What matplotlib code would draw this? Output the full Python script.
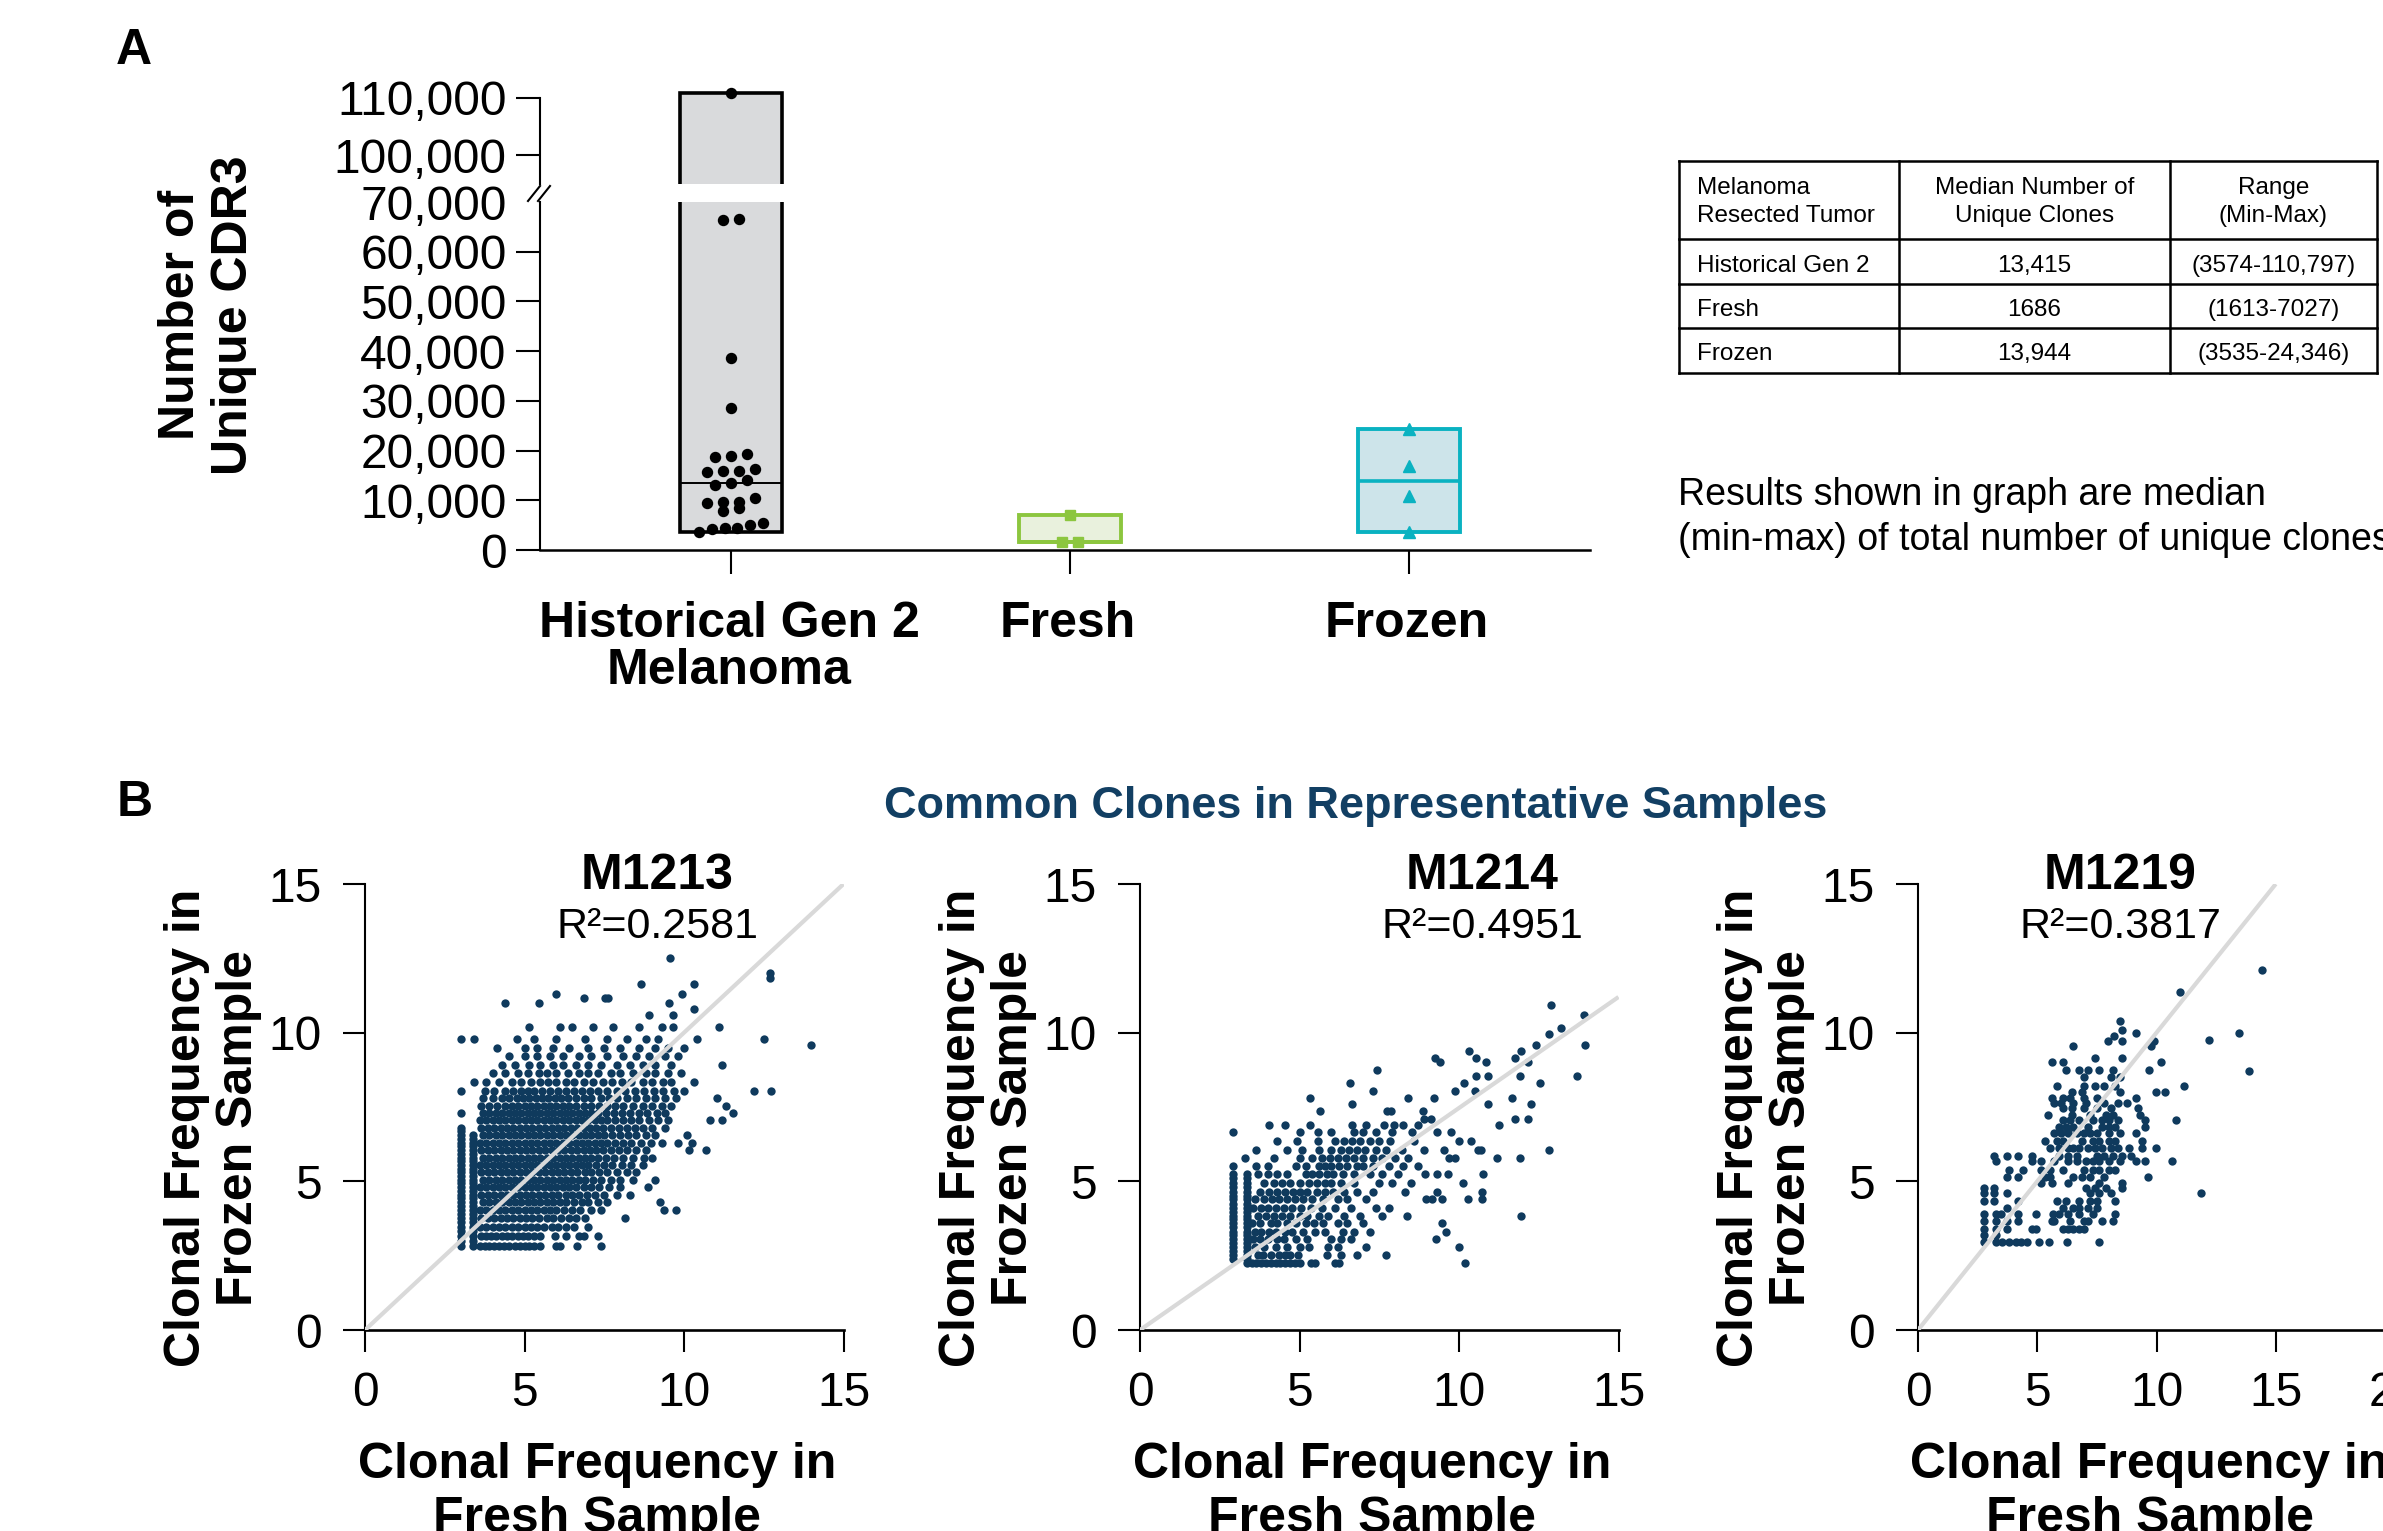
import numpy as np
import matplotlib
matplotlib.use("Agg")
import matplotlib.pyplot as plt
from matplotlib.patches import Rectangle
from matplotlib.ticker import FuncFormatter

plt.rcParams['font.family'] = ['Liberation Sans', 'DejaVu Sans']

W, H, DPI = 2383, 1531, 100

# ---------------- Panel A data ----------------
categories = ["Historical Gen 2", "Fresh", "Frozen"]
category_line2 = ["Melanoma", "", ""]
historical_values = [110797, 66600, 66400, 38600, 28500, 19400, 19000, 18650,
                     16330, 15900, 15850, 15750, 14020, 13415, 13100, 10560,
                     9720, 9700, 9410, 8400, 7870, 5400, 5020, 4420, 4400, 4170, 3574]
fresh_values = [1613, 1686, 7027]
frozen_values = [3535, 10950, 16938, 24346]
group_median = [13415, 1686, 13944]
group_min = [3574, 1613, 3535]
group_max = [110797, 7027, 24346]
lower_ticks = [0, 10000, 20000, 30000, 40000, 50000, 60000, 70000]
upper_ticks = [100000, 110000]

table_header = [["Melanoma", "Resected Tumor"], ["Median Number of", "Unique Clones"], ["Range", "(Min-Max)"]]
table_rows = [["Historical Gen 2", "13,415", "(3574-110,797)"],
              ["Fresh", "1686", "(1613-7027)"],
              ["Frozen", "13,944", "(3535-24,346)"]]
note_lines = ["Results shown in graph are median", "(min-max) of total number of unique clones"]

# ---------------- Panel B data ----------------
samples = ["M1213", "M1214", "M1219"]
r2_values = ["0.2581", "0.4951", "0.3817"]
x_max = [15, 15, 20]
x_ticks = [[0, 5, 10, 15], [0, 5, 10, 15], [0, 5, 10, 15, 20]]
y_ticks = [0, 5, 10, 15]
ref_line_end = [(15, 15), (15, 11.2), (15, 15)]

# rows of points: (frozen frequency, [fresh frequencies])
m1213_rows = [
    (2.83, [3.0, 3.4, 3.6, 3.75, 3.9, 4.05, 4.2, 4.35, 4.5, 4.7, 4.85, 5.0, 5.15, 5.3, 5.5, 6.0, 6.12, 6.65, 7.4]),
    (3.0, [3.0, 3.4]),
    (3.17, [3.0, 3.4, 3.65, 3.8, 3.95, 4.1, 4.3, 4.45, 4.6, 4.8, 4.95, 5.1, 5.3, 5.5, 5.95, 6.29, 6.7, 6.85, 7.3]),
    (3.33, [3.0, 3.4]),
    (3.48, [3.0, 3.4, 3.6, 3.8, 4.0, 4.2, 4.4, 4.6, 4.8, 5.0, 5.2, 5.4, 5.6, 5.85, 6.05, 6.3, 6.55, 7.0]),
    (3.62, [3.0, 3.4]),
    (3.76, [3.0, 3.4, 3.65, 3.85, 4.05, 4.25, 4.45, 4.65, 4.85, 5.05, 5.25, 5.45, 5.7, 5.9, 6.15, 6.4, 6.6, 6.9, 8.16]),
    (3.9, [3.0, 3.4]),
    (4.05, [3.0, 3.4, 3.6, 3.8, 4.0, 4.2, 4.4, 4.6, 4.8, 5.0, 5.2, 5.4, 5.6, 5.8, 6.0, 6.25, 6.5, 6.75, 7.1, 7.4, 9.38, 9.74]),
    (4.18, [3.0, 3.4]),
    (4.3, [3.0, 3.4, 3.7, 3.9, 4.1, 4.3, 4.5, 4.7, 4.9, 5.1, 5.3, 5.5, 5.7, 5.9, 6.1, 6.3, 6.55, 6.8, 7.0, 7.3, 7.6, 9.24]),
    (4.43, [3.0, 3.4]),
    (4.55, [3.0, 3.4, 3.65, 3.85, 4.05, 4.25, 4.45, 4.65, 4.85, 5.05, 5.25, 5.45, 5.65, 5.85, 6.05, 6.3, 6.5, 6.7, 6.95, 7.2, 7.5, 7.9, 8.3]),
    (4.68, [3.0, 3.4]),
    (4.8, [3.0, 3.4, 3.6, 3.8, 4.0, 4.2, 4.4, 4.6, 4.8, 5.0, 5.2, 5.4, 5.6, 5.8, 6.0, 6.2, 6.4, 6.6, 6.85, 7.1, 7.35, 7.65, 8.0, 8.88]),
    (4.93, [3.0, 3.4]),
    (5.05, [3.0, 3.4, 3.7, 3.9, 4.1, 4.3, 4.5, 4.7, 4.9, 5.1, 5.3, 5.5, 5.7, 5.9, 6.1, 6.3, 6.5, 6.7, 6.9, 7.15, 7.4, 7.7, 8.0, 8.4, 9.09]),
    (5.18, [3.0, 3.4]),
    (5.3, [3.0, 3.4, 3.65, 3.85, 4.05, 4.25, 4.45, 4.65, 4.85, 5.05, 5.25, 5.45, 5.65, 5.85, 6.05, 6.25, 6.45, 6.65, 6.9, 7.1, 7.35, 7.6, 7.9, 8.2, 8.5]),
    (5.43, [3.0, 3.4]),
    (5.55, [3.0, 3.4, 3.6, 3.8, 4.0, 4.2, 4.4, 4.6, 4.8, 5.0, 5.2, 5.4, 5.6, 5.8, 6.0, 6.2, 6.4, 6.6, 6.8, 7.0, 7.25, 7.5, 7.75, 8.05, 8.35, 8.7]),
    (5.68, [3.0, 3.4]),
    (5.8, [3.0, 3.4, 3.7, 3.9, 4.1, 4.3, 4.5, 4.7, 4.9, 5.1, 5.3, 5.5, 5.7, 5.9, 6.1, 6.3, 6.5, 6.7, 6.9, 7.1, 7.3, 7.55, 7.8, 8.1, 8.4, 8.75, 9.0]),
    (5.93, [3.0, 3.4]),
    (6.05, [3.0, 3.4, 3.65, 3.85, 4.05, 4.25, 4.45, 4.65, 4.85, 5.05, 5.25, 5.45, 5.65, 5.85, 6.05, 6.25, 6.45, 6.65, 6.85, 7.05, 7.25, 7.45, 7.7, 7.95, 8.2, 8.5, 8.8, 10.17, 10.68]),
    (6.18, [3.0, 3.4]),
    (6.3, [3.0, 3.4, 3.6, 3.8, 4.0, 4.2, 4.4, 4.6, 4.8, 5.0, 5.2, 5.4, 5.6, 5.8, 6.0, 6.2, 6.4, 6.6, 6.8, 7.0, 7.2, 7.4, 7.6, 7.85, 8.1, 8.35, 8.65, 8.95, 9.3, 9.81, 10.24]),
    (6.43, [3.0, 3.4]),
    (6.55, [3.0, 3.4, 3.7, 3.9, 4.1, 4.3, 4.5, 4.7, 4.9, 5.1, 5.3, 5.5, 5.7, 5.9, 6.1, 6.3, 6.5, 6.7, 6.9, 7.1, 7.3, 7.5, 7.75, 8.0, 8.25, 8.5, 8.8, 9.1, 10.1]),
    (6.68, [3.0]),
    (6.8, [3.0, 3.65, 3.85, 4.05, 4.25, 4.45, 4.65, 4.85, 5.05, 5.25, 5.45, 5.65, 5.85, 6.05, 6.25, 6.45, 6.65, 6.85, 7.05, 7.25, 7.45, 7.7, 7.95, 8.2, 8.45, 8.7, 9.0, 9.4]),
    (7.05, [3.6, 3.8, 4.0, 4.2, 4.4, 4.6, 4.8, 5.0, 5.2, 5.4, 5.6, 5.8, 6.0, 6.2, 6.4, 6.6, 6.8, 7.0, 7.2, 7.4, 7.6, 7.85, 8.1, 8.35, 8.6, 8.9, 9.2, 9.5, 10.82, 11.18]),
    (7.3, [3.0, 3.7, 3.9, 4.1, 4.3, 4.5, 4.7, 4.9, 5.1, 5.3, 5.5, 5.7, 5.9, 6.1, 6.3, 6.5, 6.7, 6.9, 7.1, 7.3, 7.55, 7.8, 8.05, 8.3, 8.6, 8.85, 9.15, 9.4, 11.54]),
    (7.55, [3.65, 3.9, 4.15, 4.4, 4.6, 4.8, 5.0, 5.2, 5.4, 5.6, 5.8, 6.0, 6.2, 6.4, 6.6, 6.85, 7.1, 7.35, 7.6, 7.85, 8.1, 8.4, 8.7, 9.0, 9.3, 9.6, 11.32]),
    (7.8, [3.7, 4.0, 4.3, 4.5, 4.75, 4.95, 5.15, 5.35, 5.55, 5.75, 5.95, 6.15, 6.35, 6.6, 6.85, 7.1, 7.4, 7.65, 7.9, 8.2, 8.5, 8.8, 9.1, 9.4, 9.75, 11.04]),
    (8.05, [3.0, 3.75, 4.05, 4.4, 4.65, 4.9, 5.1, 5.3, 5.55, 5.8, 6.05, 6.3, 6.55, 6.8, 7.05, 7.3, 7.6, 7.9, 8.15, 8.45, 8.75, 9.05, 9.35, 9.7, 10.0, 12.19, 12.73]),
    (8.35, [3.41, 3.8, 4.2, 4.6, 4.9, 5.2, 5.5, 5.75, 6.0, 6.3, 6.55, 6.85, 7.15, 7.45, 7.75, 8.05, 8.35, 8.7, 9.0, 9.35, 9.6, 10.3]),
    (8.65, [4.0, 4.4, 4.8, 5.1, 5.45, 5.7, 6.0, 6.35, 6.7, 7.0, 7.3, 7.7, 8.0, 8.4, 8.8, 9.1, 9.5, 9.9]),
    (8.9, [4.3, 4.7, 5.15, 5.5, 5.9, 6.2, 6.6, 7.0, 7.4, 7.9, 8.3, 8.7, 9.1, 9.6, 11.18]),
    (9.2, [4.5, 5.0, 5.4, 5.8, 6.2, 6.7, 7.1, 7.6, 8.1, 8.5, 8.9, 9.4, 9.8]),
    (9.5, [4.13, 5.0, 5.4, 5.9, 6.4, 7.0, 7.5, 8.0, 8.6, 9.1, 9.5, 10.0]),
    (9.6, [13.99]),
    (9.8, [3.02, 3.41, 4.78, 5.3, 6.0, 6.9, 7.6, 8.2, 8.8, 9.2, 10.4, 12.5]),
    (10.2, [5.14, 6.12, 6.5, 7.15, 7.77, 8.6, 9.3, 9.64, 11.11]),
    (10.6, [8.9, 9.64]),
    (10.8, [10.32]),
    (11.0, [4.39, 5.47, 9.53]),
    (11.15, [6.86, 7.51, 7.63]),
    (11.3, [6.0, 9.93]),
    (11.65, [8.66, 10.32]),
    (11.85, [12.69]),
    (12.0, [12.69]),
    (12.5, [9.57]),
]

m1214_rows = [
    (2.24, [3.34, 3.5, 3.65, 3.8, 3.95, 4.1, 4.25, 4.4, 4.55, 4.7, 4.85, 5.0, 5.35, 5.5, 6.1, 6.25, 10.2]),
    (2.4, [2.93, 3.34]),
    (2.53, [2.93, 3.34, 3.7, 3.85, 4.1, 4.35, 4.55, 4.7, 4.95, 5.85, 6.3, 6.8, 7.7]),
    (2.67, [2.93, 3.34]),
    (2.8, [2.93, 3.34, 3.6, 3.9, 4.25, 4.6, 5.0, 5.3, 5.9, 6.2, 7.1, 10.0]),
    (2.93, [2.93, 3.34]),
    (3.05, [2.93, 3.34, 3.55, 3.75, 4.0, 4.3, 4.5, 4.9, 5.25, 6.0, 6.3, 6.6, 9.27]),
    (3.18, [2.93, 3.34]),
    (3.3, [2.93, 3.34, 3.6, 3.8, 4.05, 4.25, 4.55, 4.75, 5.1, 5.5, 5.8, 6.35, 6.7, 7.2, 9.59]),
    (3.45, [2.93, 3.34]),
    (3.6, [2.93, 3.34, 3.5, 3.75, 4.1, 4.3, 4.6, 4.9, 5.2, 5.45, 5.75, 6.2, 6.5, 7.0, 9.47]),
    (3.72, [2.93, 3.34]),
    (3.85, [2.93, 3.34, 3.7, 3.95, 4.2, 4.45, 4.7, 5.0, 5.25, 5.6, 5.9, 6.4, 6.9, 7.6, 8.37, 11.95]),
    (3.98, [2.93, 3.34]),
    (4.1, [2.93, 3.34, 3.55, 3.8, 4.0, 4.25, 4.5, 4.75, 5.05, 5.35, 5.7, 6.1, 6.6, 7.4, 7.8]),
    (4.25, [2.93, 3.34]),
    (4.4, [2.93, 3.34, 3.6, 3.9, 4.15, 4.35, 4.6, 4.85, 5.1, 5.4, 5.75, 6.2, 6.5, 7.1, 8.98, 9.16, 9.47, 10.27, 10.73]),
    (4.52, [2.93, 3.34]),
    (4.65, [2.93, 3.34, 3.75, 4.05, 4.3, 4.55, 4.8, 5.0, 5.25, 5.55, 5.8, 6.05, 6.4, 6.8, 7.3, 8.3, 9.32, 10.73]),
    (4.8, [2.93, 3.34]),
    (4.95, [2.93, 3.34, 3.9, 4.2, 4.45, 4.7, 5.0, 5.3, 5.55, 5.8, 6.0, 6.3, 6.7, 7.5, 7.9, 8.5, 10.12]),
    (5.1, [2.93, 3.34]),
    (5.25, [2.93, 3.34, 3.7, 4.0, 4.3, 4.6, 5.2, 5.4, 5.6, 5.85, 6.05, 6.35, 6.7, 7.2, 7.6, 8.1, 8.94, 9.3, 9.67, 10.76]),
    (5.5, [2.93, 3.65, 4.0, 4.9, 5.2, 5.6, 5.8, 6.0, 6.25, 6.5, 6.8, 7.0, 7.3, 7.8, 8.25, 8.7]),
    (5.8, [3.3, 4.2, 5.0, 5.4, 5.7, 5.95, 6.2, 6.45, 6.7, 7.0, 7.3, 7.6, 8.0, 8.4, 9.7, 9.89, 11.2, 11.9]),
    (6.05, [3.65, 4.6, 5.09, 5.6, 6.0, 6.3, 6.55, 6.8, 7.05, 7.4, 7.7, 8.2, 8.9, 9.54, 10.58, 10.68, 12.81]),
    (6.35, [4.3, 4.91, 5.59, 6.1, 6.4, 6.65, 6.9, 7.2, 7.5, 7.85, 8.6, 10.0, 10.38]),
    (6.65, [2.93, 5.0, 5.59, 6.0, 6.7, 7.0, 7.4, 7.9, 8.53, 9.32, 9.74]),
    (6.9, [4.04, 4.53, 5.33, 6.66, 7.07, 7.64, 7.95, 8.25, 8.71, 11.26]),
    (7.1, [8.9, 9.13, 11.75, 12.16]),
    (7.35, [5.64, 7.75, 7.88, 8.86]),
    (7.6, [6.66, 10.91, 12.25]),
    (7.8, [5.33, 8.4, 9.21, 11.67]),
    (8.05, [7.31, 9.88, 10.5]),
    (8.3, [6.58, 10.15, 12.54]),
    (8.55, [10.53, 10.91, 11.9, 13.69]),
    (8.75, [7.42]),
    (9.0, [9.4, 10.84, 12.16]),
    (9.15, [9.24, 10.53, 11.75]),
    (9.4, [10.32, 11.95]),
    (9.6, [12.4, 13.95]),
    (9.97, [12.81]),
    (10.16, [13.19]),
    (10.6, [13.92]),
    (10.94, [12.89]),
]

m1219_rows = [
    (2.97, [2.78, 3.26, 3.54, 3.83, 4.11, 4.30, 4.58, 5.06, 5.49, 6.25, 7.61]),
    (3.18, [2.78, 3.26]),
    (3.39, [2.78, 3.26, 3.73, 4.77, 4.96, 6.10, 6.29, 6.48, 6.76, 6.95]),
    (3.67, [2.78, 3.26, 3.73, 4.20, 5.63, 5.72, 6.38, 6.95, 7.14, 7.71, 8.18]),
    (3.91, [2.78, 3.26, 3.48, 4.20, 4.96, 5.68, 5.91, 6.29, 6.76, 7.33, 8.28]),
    (4.10, [3.73, 6.10, 6.48, 6.76, 7.14, 7.52]),
    (4.35, [2.78, 3.20, 4.20, 5.81, 6.19, 6.76, 7.23, 7.52, 8.28]),
    (4.60, [2.78, 3.20, 3.73, 7.23, 7.61, 8.09, 11.87]),
    (4.77, [2.78, 3.20, 7.05, 7.42, 7.90, 8.56]),
    (4.94, [5.15, 5.63, 6.29, 7.61, 8.56]),
    (5.16, [3.73, 4.20, 5.34, 5.53, 6.48, 6.86, 7.23, 7.80, 9.64]),
    (5.39, [3.83, 4.39, 5.15, 5.53, 6.10, 6.95, 7.33, 7.61, 7.99, 8.28]),
    (5.67, [3.26, 4.77, 5.15, 5.72, 6.29, 6.67, 7.05, 7.33, 7.61, 7.99, 8.47, 9.13, 9.51, 10.64]),
    (5.86, [3.20, 3.73, 4.20, 4.77, 5.91, 6.29, 6.67, 7.52, 7.80, 8.18, 8.56, 8.94]),
    (6.12, [5.53, 5.91, 6.29, 6.48, 6.76, 7.14, 7.42, 7.71, 8.09, 8.37, 8.84, 9.41, 9.98]),
    (6.34, [5.34, 5.81, 6.10, 6.86, 7.33, 7.61, 7.99, 8.28, 9.41]),
    (6.62, [5.72, 6.00, 6.29, 6.67, 6.95, 7.23, 7.52, 7.99, 8.47, 9.13]),
    (6.82, [5.91, 6.19, 6.48, 7.14, 7.71, 7.99, 8.28, 9.51]),
    (7.07, [6.10, 6.38, 6.76, 7.33, 7.71, 7.99, 8.37, 9.51, 10.80]),
    (7.24, [5.44, 6.44, 7.23, 7.90, 8.18, 9.32]),
    (7.46, [6.10, 6.44, 6.95, 7.52, 8.09, 9.22]),
    (7.63, [5.72, 6.00, 6.48, 7.05, 7.80, 8.37, 8.75]),
    (7.80, [5.63, 6.10, 6.38, 6.95, 7.52, 9.13]),
    (8.02, [6.44, 6.86, 8.47, 9.98, 10.36]),
    (8.22, [5.81, 6.95, 7.42, 7.80, 8.28, 11.17]),
    (8.51, [6.95, 8.09, 8.47]),
    (8.70, [13.86]),
    (8.75, [6.19, 6.76, 7.14, 7.61, 8.18, 9.70]),
    (9.00, [5.63, 6.10, 10.17]),
    (9.15, [7.42, 8.56]),
    (9.54, [6.48, 9.79]),
    (9.71, [7.95, 8.56, 9.89]),
    (9.74, [12.22]),
    (9.88, [8.22]),
    (9.99, [9.13, 13.45]),
    (10.10, [8.56]),
    (10.38, [8.47]),
    (11.37, [10.98]),
    (12.12, [14.43]),
]
scatter_rows = [m1213_rows, m1214_rows, m1219_rows]

# ---------------- styling ----------------
NAVY = '#0f3a5d'
TITLE_BLUE = '#123f63'
LINE_GRAY = '#d9d9d9'
HIST_FILL, HIST_EDGE = '#d9dadc', '#000000'
FRESH_FILL, FRESH_EDGE = '#e9f1dd', '#8cc63f'
FROZEN_FILL, FROZEN_EDGE = '#cde4ea', '#0ab2c1'
fills = [HIST_FILL, FRESH_FILL, FROZEN_FILL]
edges = [HIST_EDGE, FRESH_EDGE, FROZEN_EDGE]
markers = ['o', 's', '^']
msizes = [7.2, 6.8, 8.0]
group_values = [historical_values, fresh_values, frozen_values]

fig = plt.figure(figsize=(W / DPI, H / DPI), dpi=DPI)
fig.patch.set_facecolor('white')


def add_axes_px(left, top, right, bottom):
    return fig.add_axes([left / W, 1 - bottom / H, (right - left) / W, (bottom - top) / H])


def style_ticks(ax, length, pad_x, pad_y, size):
    ax.tick_params(axis='both', direction='out', length=length, width=1.5, color='black',
                   labelsize=size, colors='black')
    ax.tick_params(axis='x', pad=pad_x)
    ax.tick_params(axis='y', pad=pad_y)


# ---------------- Panel A ----------------
XL = (-0.5634, 2.534)
axL = add_axes_px(540, 202, 1590, 550)
axU = add_axes_px(540, 86.4, 1590, 184)
axL.set_xlim(*XL); axU.set_xlim(*XL)
axL.set_ylim(0, 70000)
axU.set_ylim(95000, 112000)
for ax in (axL, axU):
    ax.patch.set_visible(False)
    for s in ('top', 'right'):
        ax.spines[s].set_visible(False)
    ax.spines['left'].set_linewidth(1.5)
axU.spines['bottom'].set_visible(False)
axU.spines['left'].set_bounds(95000, 110000)
axL.spines['bottom'].set_linewidth(1.8)

fmt = FuncFormatter(lambda v, p: f"{int(v):,}")
axL.set_yticks(lower_ticks); axL.yaxis.set_major_formatter(fmt)
axU.set_yticks(upper_ticks); axU.yaxis.set_major_formatter(fmt)
axL.set_xticks(range(len(categories))); axL.set_xticklabels([])
axU.set_xticks([])
for ax in (axL, axU):
    style_ticks(ax, 17, 7, 7, 34.5)
axL.yaxis.get_major_ticks()[-1].tick1line.set_visible(False)

bw = 0.30
for i in range(len(categories)):
    for ax in (axL, axU):
        ax.add_patch(Rectangle((i - bw / 2, group_min[i]), bw, group_max[i] - group_min[i],
                               facecolor=fills[i], edgecolor=edges[i],
                               linewidth=2.8 if i else 2.6, zorder=2, clip_on=True))
        ax.plot([i - bw / 2, i + bw / 2], [group_median[i]] * 2, color=edges[i],
                lw=1.4 if i == 0 else 2.6, zorder=3, solid_capstyle='butt')


def swarm_x(ax, vals, center, step_px, gap_px, max_cols=5):
    vals = np.asarray(vals, float)
    pix = ax.transData.transform(np.column_stack([np.full(len(vals), center), vals]))[:, 1]
    order = np.argsort(pix)
    groups, cur = [], [order[0]]
    for a, b in zip(order[:-1], order[1:]):
        if pix[b] - pix[a] > gap_px:
            groups.append(cur); cur = [b]
        else:
            cur.append(b)
    groups.append(cur)
    x0 = ax.transData.transform((center, 0))[0]
    x1 = ax.transData.transform((center + 1, 0))[0]
    step = step_px / (x1 - x0)
    xs = np.full(len(vals), float(center))
    for g in groups:
        n = len(g)
        st = step * min(1.0, (max_cols - 1) / max(n - 1, 1))
        for k, idx in enumerate(g):
            xs[idx] = center + (k - (n - 1) / 2) * st
    return xs

for i, vals in enumerate(group_values):
    vals = np.asarray(vals, float)
    xs = swarm_x(axL, vals, i, 16, 4.8)
    lo = vals <= 70000
    axL.plot(xs[lo], vals[lo], ls='none', marker=markers[i], ms=msizes[i],
             color=edges[i], mec=edges[i], zorder=4, clip_on=False)
    hi = vals >= 95000
    if hi.any():
        axU.plot(xs[hi], vals[hi], ls='none', marker=markers[i], ms=msizes[i],
                 color=edges[i], mec=edges[i], zorder=4, clip_on=False)

# ---------------- Panel B ----------------
sc_left = [365, 1140, 1918]
sc_right = [843.5, 1618.5, 2395]
SC_TOP, SC_BOT = 884, 1330
sc_axes = []
for k in range(3):
    ax = add_axes_px(sc_left[k], SC_TOP, sc_right[k], SC_BOT)
    ax.patch.set_visible(False)
    xs = [x for y, row in scatter_rows[k] for x in row]
    ys = [y for y, row in scatter_rows[k] for x in row]
    ax.scatter(xs, ys, s=36, c=NAVY, linewidths=0, zorder=2, clip_on=False)
    ax.plot([0, ref_line_end[k][0]], [0, ref_line_end[k][1]], color=LINE_GRAY, lw=3.0,
            zorder=3, solid_capstyle='butt')
    ax.set_xlim(0, x_max[k]); ax.set_ylim(0, 15)
    ax.set_xticks(x_ticks[k]); ax.set_yticks(y_ticks)
    for s in ('top', 'right'):
        ax.spines[s].set_visible(False)
    ax.spines['left'].set_linewidth(1.5)
    ax.spines['bottom'].set_linewidth(1.9)
    style_ticks(ax, 16, 13.5, 15, 34.5)
    sc_axes.append(ax)

# ---------------- overlay for free text / table ----------------
ov = fig.add_axes([0, 0, 1, 1])
ov.set_xlim(0, W); ov.set_ylim(H, 0)
ov.axis('off')
ov.patch.set_visible(False)


def txt(x, y, s, size, bold=False, ha='center', va='baseline', rot=0, color='black'):
    ov.text(x, y, s, fontsize=size, fontweight='bold' if bold else 'normal', ha=ha, va=va,
            rotation=rot, rotation_mode='anchor', color=color)

# panel letters
txt(134, 64, "A", 36, bold=True)
txt(135, 816, "B", 36, bold=True)

# panel A y label
txt(194, 315, "Number of", 36, bold=True, rot=90)
txt(247, 315, "Unique CDR3", 36, bold=True, rot=90)

# axis break marks
for dx in (-5, 5):
    ov.plot([533 + dx, 545 + dx], [201, 186], color='black', lw=1.5)

# category labels
cat_px = axL.transData.transform(np.column_stack([np.arange(3), np.zeros(3)]))[:, 0]
for i, c in enumerate(categories):
    txt(cat_px[i] - 2, 637, c, 36, bold=True)
    if category_line2[i]:
        txt(cat_px[i] - 2, 684, category_line2[i], 36, bold=True)

# table
TL, TR = 1679, 2377
row_lines = [161, 239, 284, 328, 373]
col_lines = [1679, 1899, 2170, 2377]
for y in row_lines:
    ov.plot([TL, TR], [y, y], color='black', lw=1.8, solid_capstyle='projecting')
for x in col_lines:
    ov.plot([x, x], [row_lines[0], row_lines[-1]], color='black', lw=1.8, solid_capstyle='projecting')
col_x = [1697, (1899 + 2170) / 2, (2170 + 2377) / 2]
col_ha = ['left', 'center', 'center']
for j, lines in enumerate(table_header):
    for li, s in enumerate(lines):
        txt(col_x[j], [194, 222][li], s, 17.5, ha=col_ha[j])
for r, row in enumerate(table_rows):
    for j, s in enumerate(row):
        txt(col_x[j], [272, 316, 360][r], s, 17.5, ha=col_ha[j])

# note
txt(1678, 505, note_lines[0], 27, ha='left')
txt(1678, 550, note_lines[1], 27, ha='left')

# panel B title
txt(1356, 818, "Common Clones in Representative Samples", 32.5, bold=True, color=TITLE_BLUE)

title_x = [657, 1482, 2120]
for k in range(3):
    txt(title_x[k], 889, samples[k], 36, bold=True)
    txt(title_x[k], 938, "R\u00b2=" + r2_values[k], 31)
    cx = (sc_left[k] + sc_right[k]) / 2 - 7
    txt(cx, 1478, "Clonal Frequency in", 36, bold=True)
    txt(cx, 1532, "Fresh Sample", 36, bold=True)
    txt(sc_left[k] - 165, 1128, "Clonal Frequency in", 36, bold=True, rot=90)
    txt(sc_left[k] - 113, 1128, "Frozen Sample", 36, bold=True, rot=90)

fig.savefig("out.png", dpi=DPI, facecolor='white')
